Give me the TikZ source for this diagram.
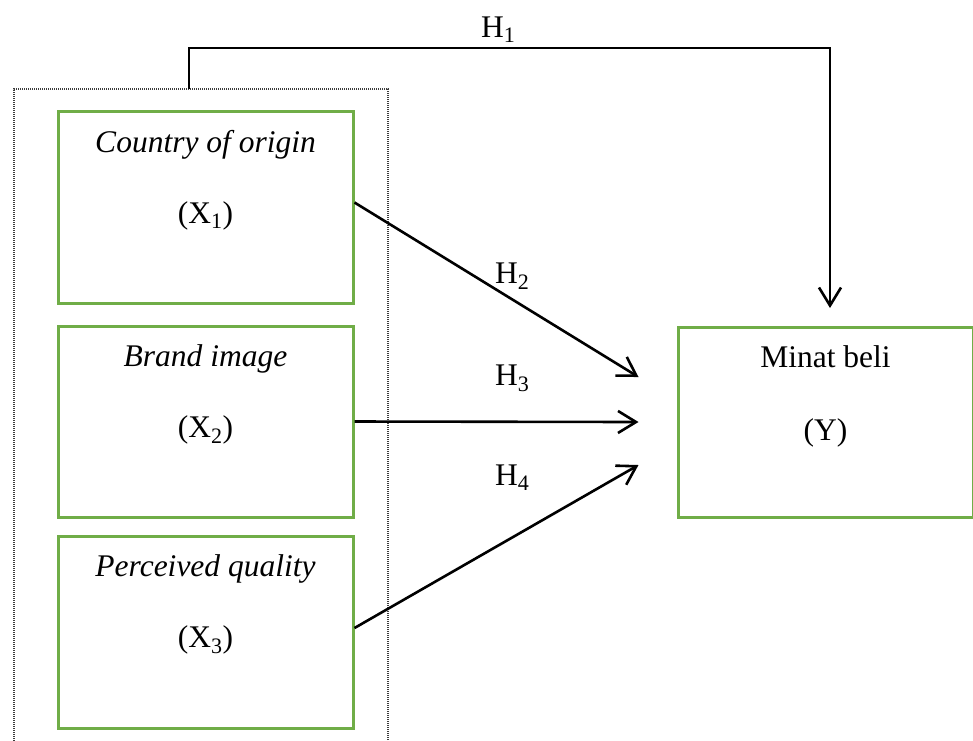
\documentclass[tikz,border=0pt]{standalone}
\usepackage{fontspec}
\setmainfont{Liberation Serif}
\usetikzlibrary{arrows.meta,calc}
\definecolor{boxgreen}{RGB}{112,173,71}
\definecolor{dotgray}{RGB}{60,60,60}
\tikzset{
  varbox/.style={draw=boxgreen,line width=3pt,minimum width=295pt,inner sep=0pt},
  grpbox/.style={draw=dotgray,line width=1.2pt,dash pattern=on 1pt off 1pt,minimum width=374pt,minimum height=681pt,inner sep=0pt},
  lbl/.style={inner sep=0pt,anchor=base,font=\fontsize{31.5}{38}\selectfont},
  hlbl/.style={inner sep=0pt,anchor=base west,font=\fontsize{31.5}{38}\selectfont},
  arr/.style={line width=2.6pt,-{Straight Barb[length=18pt,width=22pt,line width=2.6pt]}},
  conn/.style={line width=2.5pt}
}
\begin{document}
\begin{tikzpicture}[x=1pt,y=-1pt]
\useasboundingbox (0,0) rectangle (973,740);
\clip (0,0) rectangle (973,740);
% outer dotted group
\node[grpbox] (grp) at (201,429.5) {};
% variable boxes
\node[varbox,minimum height=192pt] (b1) at (205.5,207) {};
\node[varbox,minimum height=191pt] (b2) at (205.5,421.5) {};
\node[varbox,minimum height=192pt] (b3) at (205.5,632) {};
\node[varbox,minimum height=190pt] (Y) at (825.5,422) {};
% texts
\node[lbl] (t1a) at (205.5,152) {\itshape Country of origin};
\node[lbl] (t1b) at (205.5,223) {(X\textsubscript{1})};
\node[lbl] (t2a) at (205.5,366) {\itshape Brand image};
\node[lbl] (t2b) at (205.5,437) {(X\textsubscript{2})};
\node[lbl] (t3a) at (205.5,576) {\itshape Perceived quality};
\node[lbl] (t3b) at (205.5,647) {(X\textsubscript{3})};
\node[lbl] (tya) at (825.5,367) {Minat beli};
\node[lbl] (tyb) at (825.5,440) {(Y)};
% hypothesis labels
\node[hlbl] (h1) at (481,37) {H\textsubscript{1}};
\node[hlbl] (h2) at (495,283) {H\textsubscript{2}};
\node[hlbl] (h3) at (495,385) {H\textsubscript{3}};
\node[hlbl] (h4) at (495,485) {H\textsubscript{4}};
% connectors
\coordinate (h1s) at (189,89);
\coordinate (h1c) at (830,48);
\coordinate (h1e) at (830,308);
\draw[arr] (h1s) |- (h1c) -- (h1e);
\draw[arr] ([yshift=4.5pt]b1.east) -- ([xshift=-38pt,yshift=45pt]Y.west);
\draw[arr] (b2.east) -- ([xshift=-38pt]Y.west);
\draw[arr] ([yshift=4pt]b3.east) -- ([xshift=-38pt,yshift=-43pt]Y.west);
\end{tikzpicture}
\end{document}
